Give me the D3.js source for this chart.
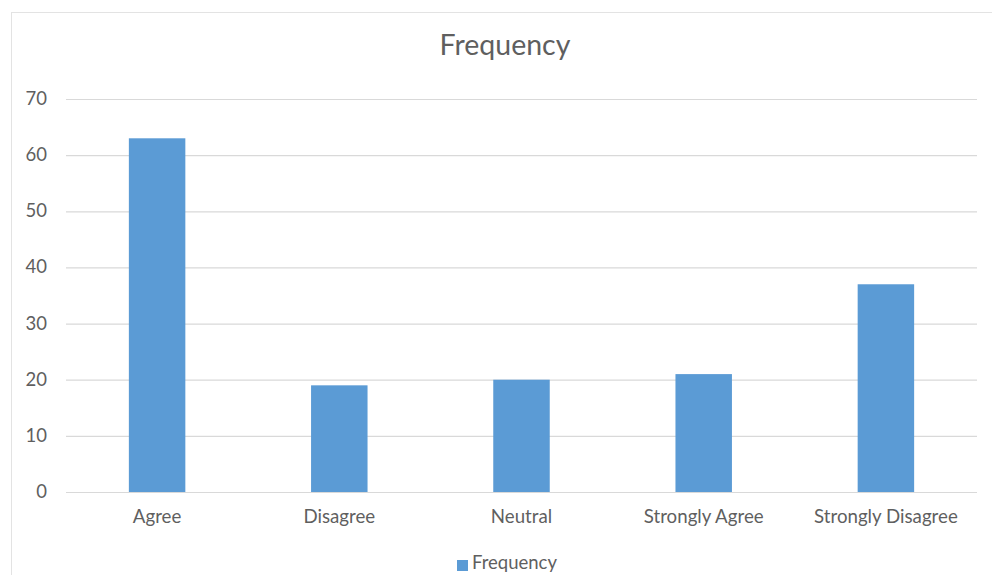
<!DOCTYPE html>
<html>
<head>
<meta charset="utf-8">
<script src="https://cdn.jsdelivr.net/npm/d3@7"></script>
<style>
  html, body { margin: 0; padding: 0; background: #fff; }
  svg { display: block; font-family: Lato, "Open Sans", sans-serif; }
</style>
</head>
<body>
<svg id="chart" width="992" height="575"></svg>
<script>
// Survey responses and their counts
const categories = ["Agree", "Disagree", "Neutral", "Strongly Agree", "Strongly Disagree"];
const frequency = [63, 19, 20, 21, 37];
const yTicks = [0, 10, 20, 30, 40, 50, 60, 70];
const seriesName = "Frequency";
const chartTitle = "Frequency";

const svg = d3.select("#chart");
const W = 992, H = 575;
const plot = { left: 66, right: 977, top: 99, bottom: 492 };
const textColor = "#5f5f5f";
const gridColor = "#d9d9d9";
const barColor = "#5b9bd5";
const font = "Lato, 'Open Sans', sans-serif";

// Outer chart frame
svg.append("rect")
  .attr("x", 11.5).attr("y", 12.5)
  .attr("width", W + 10).attr("height", H + 10)
  .attr("fill", "#fff").attr("stroke", "#e3e3e3").attr("stroke-width", 1);

const x = d3.scaleBand().domain(categories).range([plot.left, plot.right]).paddingInner(0.69).paddingOuter(0.345);
const y = d3.scaleLinear().domain([0, 70]).range([plot.bottom, plot.top]);

// Horizontal gridlines with value labels
const yAxis = d3.axisLeft(y).tickValues(yTicks).tickSize(-(plot.right - plot.left)).tickPadding(19);
const gy = svg.append("g").attr("transform", `translate(${plot.left},0)`).call(yAxis);
gy.select(".domain").remove();
gy.selectAll(".tick line").attr("stroke", gridColor).attr("stroke-width", 1.2);
gy.selectAll(".tick text").attr("fill", textColor).attr("font-size", 18.5)
  .attr("font-family", font).attr("dy", "0.3em");

// Bars
svg.append("g").selectAll("rect")
  .data(categories.map((c, i) => ({ c, v: frequency[i] })))
  .join("rect")
  .attr("x", d => x(d.c))
  .attr("width", x.bandwidth())
  .attr("y", d => y(d.v))
  .attr("height", d => y(0) - y(d.v))
  .attr("fill", barColor);

// Category axis
const xAxis = d3.axisBottom(x).tickSize(0);
const gx = svg.append("g").attr("transform", `translate(0,${plot.bottom})`).call(xAxis);
gx.select(".domain").remove();
gx.selectAll(".tick text").attr("fill", textColor).attr("font-size", 18.7)
  .attr("font-family", font).attr("y", 31).attr("dy", 0);

// Title
svg.append("text")
  .attr("x", 505).attr("y", 55)
  .attr("text-anchor", "middle")
  .attr("fill", textColor)
  .attr("font-size", 28.5)
  .text(chartTitle);

// Legend
const lg = svg.append("g").attr("transform", "translate(457,560)");
lg.append("rect").attr("width", 11).attr("height", 11).attr("fill", barColor);
lg.append("text").attr("x", 15).attr("y", 9)
  .attr("fill", textColor).attr("font-size", 18.5).text(seriesName);
</script>
</body>
</html>
